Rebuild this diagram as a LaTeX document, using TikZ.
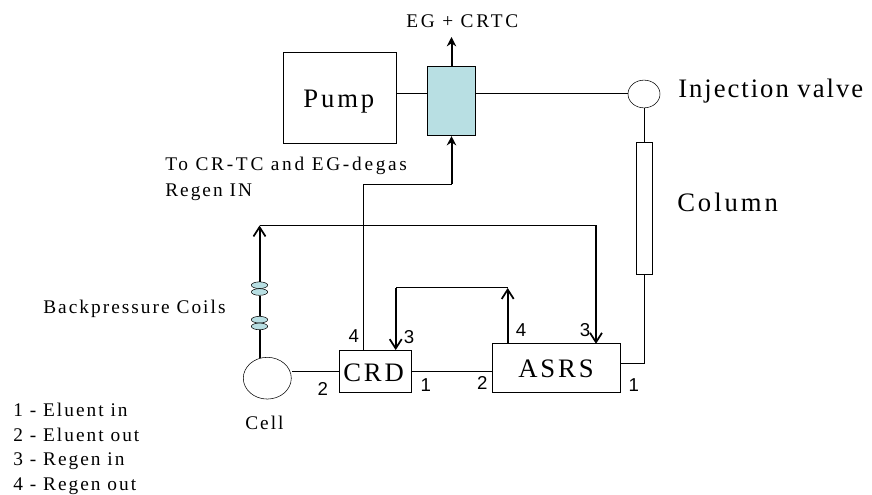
\documentclass[tikz,border=0pt]{standalone}
\usepackage{fontspec}
\setmainfont{Liberation Serif}
\newfontfamily\spaced[LetterSpace=10.5]{Liberation Serif}
\newfontfamily\wider[LetterSpace=14]{Liberation Serif}
\newfontfamily\wide[LetterSpace=11]{Liberation Serif}
\newfontfamily\tight[LetterSpace=7.4]{Liberation Serif}
\newfontfamily\portfont{Liberation Sans}
\usetikzlibrary{arrows.meta,shapes.geometric}
\definecolor{coilteal}{HTML}{B8DFE3}
\begin{document}
\begin{tikzpicture}[
		x=0.75pt,
		y=-0.75pt,
		box/.style={
			draw,
			rectangle,
			inner sep=0pt
		},
		vessel/.style={
			draw,
			ellipse,
			inner sep=0pt
		},
		coil/.style={
			vessel,
			fill=coilteal,
			minimum width=12.3pt,
			minimum height=5pt
		},
		pipe/.style={line width=0.75pt},
		flow/.style={line width=1.5pt, -{Straight Barb[length=7pt,width=9pt,line width=1.3pt]}},
		feed/.style={line width=1.5pt, -{Stealth[length=7pt,width=7pt]}},
		big/.style={anchor=base west, inner sep=0pt, font=\wide\fontsize{20}{22}\selectfont},
		bigtight/.style={big, font=\tight\fontsize{20}{22}\selectfont},
		lab/.style={anchor=base west, inner sep=0pt, font=\spaced\fontsize{14.5}{16}\selectfont},
		labwide/.style={lab, font=\wider\fontsize{14.5}{16}\selectfont},
		port/.style={inner sep=0pt, font=\portfont\fontsize{14}{16}\selectfont}
		]
		\useasboundingbox (0,0) rectangle (872,495);
		
		% Units
		\node[box, minimum width=84.8pt, minimum height=68.2pt] (pump) at (339.7,97.5) {};
		\node[box, fill=coilteal, minimum width=36.3pt, minimum height=52.3pt] (trap) at (451.5,100.9) {};
		\node[vessel, minimum width=24pt, minimum height=20.8pt] (valve) at (644,94) {};
		\node[box, minimum width=12pt, minimum height=99pt] (column) at (644.3,208.3) {};
		\node[box, minimum width=96.2pt, minimum height=36.2pt] (asrs) at (556.2,367.9) {};
		\node[box, minimum width=54.3pt, minimum height=31.3pt] (crd) at (375.5,371.2) {};
		\node[vessel, minimum width=36pt, minimum height=31.3pt] (cell) at (267.3,378.2) {};
		
		% Coils
		\node[coil] (coila) at (259.5,285.2) {};
		\node[coil] (coilb) at (259.5,292) {};
		\node[coil] (coilc) at (259.5,319.7) {};
		\node[coil] (coild) at (259.5,326.4) {};
		
		% Corners
		\coordinate (out) at (451.5,37);
		\coordinate (pumpjoin) at (451.5,94);
		\coordinate (crdtop) at (363.7,350.4);
		\coordinate (trapturn) at (363.7,184.3);
		\coordinate (coilfoot) at (259.5,358.2);
		\coordinate (regentop) at (259.5,225.5);
		\coordinate (regenright) at (596,225.5);
		\coordinate (asrsin) at (596,343.8);
		\coordinate (loopleft) at (395.7,288);
		\coordinate (loopright) at (507.7,288);
		\coordinate (asrsout) at (507.7,343.8);
		\coordinate (columnbend) at (644,364);
		
		% Eluent line
		\draw[pipe] (pump.east |- pumpjoin) -- (trap.west |- pumpjoin);
		\draw[pipe] (trap.east |- pumpjoin) -- (valve.west);
		\draw[pipe] (valve.south) -- (column.north -| valve.south);
		\draw[pipe] (column.south -| valve.south) -- (columnbend) -- (asrs.east |- columnbend);
		\draw[pipe] (asrs.west |- crd.east) -- (crd.east);
		\draw[pipe] (crd.west) -- (cell.east |- crd.west);
		
		% Regen line
		\draw[feed] (trap.north) -- (out);
		\draw[pipe] (crdtop) -- (trapturn) -- (trapturn -| trap.south);
		\draw[feed] (trapturn -| trap.south) -- (trap.south);
		\draw[line width=1.5pt] (coilfoot) -- (coild.south);
		\draw[line width=1.5pt] (coilb.south) -- (coilc.north);
		\draw[flow] (coila.north) -- (regentop);
		\draw[pipe] (regentop) -- (regenright);
		\draw[flow] (regenright) -- (asrsin);
		\draw[flow] (asrsout) -- (loopright);
		\draw[pipe] (loopright) -- (loopleft);
		\draw[flow] (loopleft) -- (crd.north -| loopleft);
		
		% Text
		\node[big] (pumplab) at (303,108) {Pump};
		\node[big] (crdlab) at (343,381.7) {CRD};
		\node[big] (asrslab) at (518,378) {ASRS};
		\node[bigtight] (valvelab) at (678,97.3) {Injection valve};
		\node[big] (columnlab) at (677,211.7) {Column};
		\node[labwide] (outlab) at (406,27.3) {EG + CRTC};
		\node[labwide] (regena) at (165,170.7) {To CR-TC and EG-degas};
		\node[lab] (regenb) at (165,196.7) {Regen IN};
		\node[lab] (coillab) at (43,314) {Backpressure Coils};
		\node[lab] (celllab) at (245,430) {Cell};
		\node[lab] (keya) at (13,416.7) {1 - Eluent in};
		\node[lab] (keyb) at (13,441.7) {2 - Eluent out};
		\node[lab] (keyc) at (13,465.7) {3 - Regen in};
		\node[lab] (keyd) at (13,490.7) {4 - Regen out};
		
		% Port numbers
		\node[port] (crdfour) at (353.7,335.7) {4};
		\node[port] (crdthree) at (409,337) {3};
		\node[port] (crdtwo) at (322.7,389) {2};
		\node[port] (crdone) at (425.7,385) {1};
		\node[port] (asrstwo) at (482.3,383) {2};
		\node[port] (asrsfour) at (521,330) {4};
		\node[port] (asrsthree) at (585,330) {3};
		\node[port] (asrsone) at (633.7,385) {1};
		
	\end{tikzpicture}
\end{document}
